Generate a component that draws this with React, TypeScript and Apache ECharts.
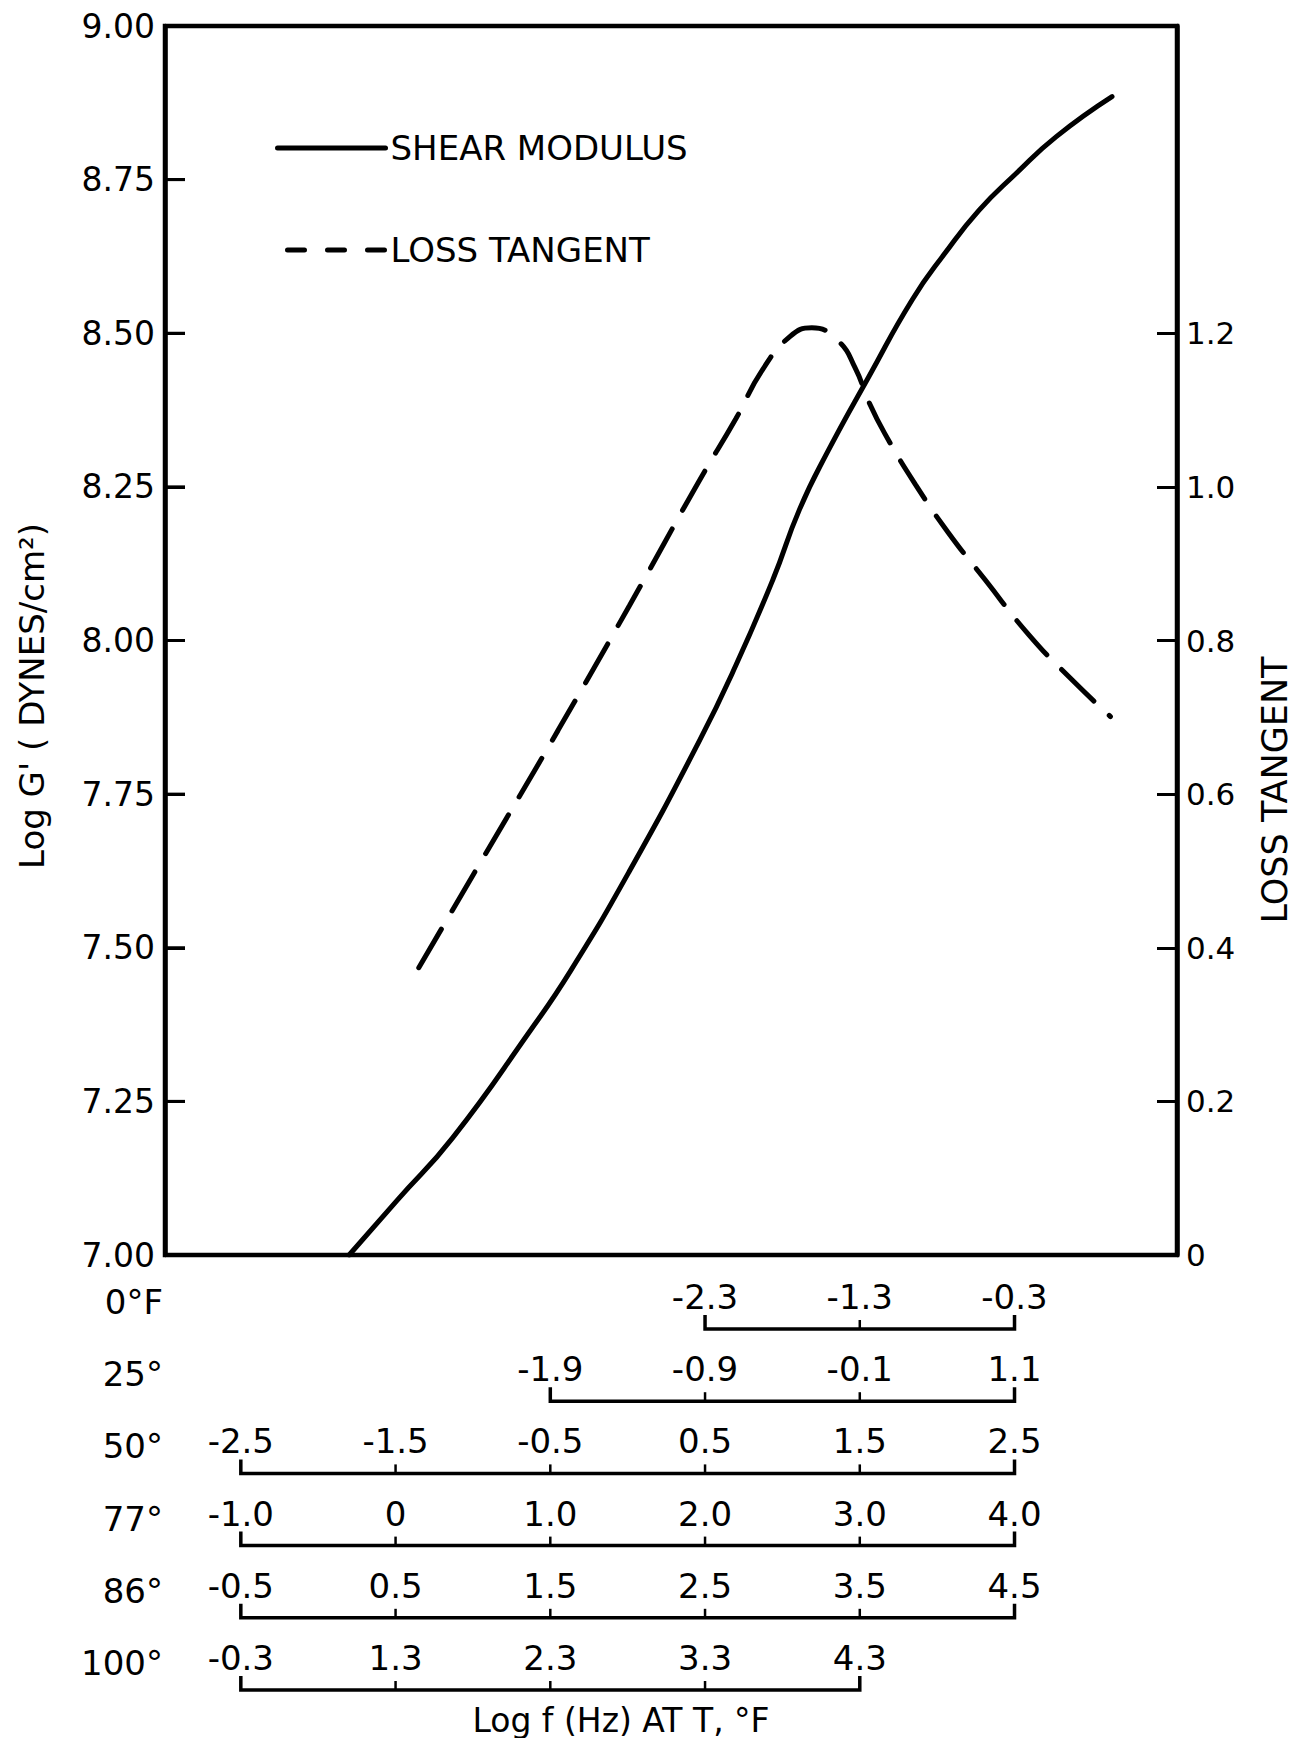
import React, { useEffect, useRef } from 'react';
import * as echarts from 'echarts';

// ---------- data ----------
// x = log f (Hz) at the 77°F reference scale
const shearLogF = [-0.30, 0.01, 0.37, 0.87, 1.13, 1.51, 1.96, 2.20, 2.44, 2.61, 2.79, 3.06, 3.34, 3.55, 3.77, 4.01, 4.27, 4.63];
const shearLogG = [7.00, 7.089, 7.191, 7.365, 7.462, 7.624, 7.835, 7.96, 8.10, 8.213, 8.306, 8.43, 8.555, 8.63, 8.70, 8.76, 8.82, 8.885];

const lossLogF = [0.15, 0.56, 1.05, 1.51, 1.96, 2.20, 2.37, 2.55, 2.69, 2.86, 2.97, 3.06, 3.16, 3.36, 3.57, 3.81, 4.09, 4.35, 4.62];
const lossTan = [0.374, 0.515, 0.683, 0.845, 1.007, 1.089, 1.152, 1.196, 1.207, 1.19, 1.155, 1.11, 1.07, 1.003, 0.941, 0.879, 0.808, 0.753, 0.701];

const gTicks = [7.0, 7.25, 7.5, 7.75, 8.0, 8.25, 8.5, 8.75, 9.0];
const gTickLabels = ['7.00', '7.25', '7.50', '7.75', '8.00', '8.25', '8.50', '8.75', '9.00'];
const lossTicks = [0, 0.2, 0.4, 0.6, 0.8, 1.0, 1.2];
const lossTickLabels = ['0', '0.2', '0.4', '0.6', '0.8', '1.0', '1.2'];

const tempLabels = ['0°F', '25°', '50°', '77°', '86°', '100°'];
// tick positions of each temperature scale, expressed on the 77°F log f axis
const scalePositions = [
  [2, 3, 4],
  [1, 2, 3, 4],
  [-1, 0, 1, 2, 3, 4],
  [-1, 0, 1, 2, 3, 4],
  [-1, 0, 1, 2, 3, 4],
  [-1, 0, 1, 2, 3],
];
const scaleTickLabels = [
  ['-2.3', '-1.3', '-0.3'],
  ['-1.9', '-0.9', '-0.1', '1.1'],
  ['-2.5', '-1.5', '-0.5', '0.5', '1.5', '2.5'],
  ['-1.0', '0', '1.0', '2.0', '3.0', '4.0'],
  ['-0.5', '0.5', '1.5', '2.5', '3.5', '4.5'],
  ['-0.3', '1.3', '2.3', '3.3', '4.3'],
];

const seriesNames = ['SHEAR MODULUS', 'LOSS TANGENT'];
const leftTitle = "Log G' ( DYNES/cm²)";
const rightTitle = 'LOSS TANGENT';
const bottomTitle = 'Log f (Hz) AT T, °F';

// ---------- layout / style ----------
const INK = '#000';
const FONT = '"DejaVu Sans", sans-serif';
const X_MIN = -1.49;
const X_MAX = 5.05;
const G_MIN = 7;
const G_MAX = 9;
const ROW_FIRST = 74;
const ROW_STEP = 72.2;
const END_TICK = 14;
const MID_TICK = 9;
const AXIS_TICK = 20;

const findLabel = (vals: number[], labels: string[], v: number) => {
  const k = vals.findIndex((t) => Math.abs(t - v) < 1e-6);
  return k >= 0 ? labels[k] : '';
};

function titleGraphics(): any[] {
  const textStyle = (text: string, fontSize: number) => ({
    text,
    fill: INK,
    fontSize,
    fontFamily: FONT,
    align: 'center',
    verticalAlign: 'middle',
    textAlign: 'center',
    textVerticalAlign: 'middle',
  });
  return [
    { type: 'text', id: 't-left', x: 24, y: 688, rotation: Math.PI / 2, style: textStyle(leftTitle, 34) },
    { type: 'text', id: 't-right', x: 1267, y: 782, rotation: Math.PI / 2, style: textStyle(rightTitle, 35) },
    { type: 'text', id: 't-bottom', x: 613, y: 1712, style: textStyle(bottomTitle, 33) },
  ];
}

function buildOption(): any {
  const legendBase = {
    left: 262,
    itemWidth: 108,
    itemHeight: 34,
    selectedMode: false,
    itemStyle: { opacity: 0, borderWidth: 0 },
    textStyle: { fontSize: 34, fontFamily: FONT, color: INK, lineHeight: 34 },
  };
  return {
    animation: false,
    backgroundColor: '#fff',
    textStyle: { fontFamily: FONT, color: INK },
    grid: {
      left: 157,
      right: 118,
      top: 18,
      height: 1229,
      show: true,
      borderColor: INK,
      borderWidth: 4.5,
      backgroundColor: 'rgba(0,0,0,0)',
      outerBoundsMode: 'none',
    },
    legend: [
      {
        ...legendBase,
        data: [seriesNames[0]],
        top: 118,
        lineStyle: { width: 5, cap: 'round', color: INK },
      },
      {
        ...legendBase,
        data: [seriesNames[1]],
        top: 220,
        lineStyle: { width: 5, cap: 'round', color: INK, type: [17, 23], dashOffset: 29.5 },
      },
    ],
    xAxis: [
      {
        type: 'value',
        min: X_MIN,
        max: X_MAX,
        show: true,
        axisLine: { show: false, onZero: false },
        axisTick: { show: false },
        axisLabel: { show: false },
        splitLine: { show: false },
      },
      {
        // helper axis whose zero sits on the grid's left edge (anchors the left y axis)
        type: 'value',
        min: 0,
        max: 1,
        show: true,
        axisLine: { show: false, onZero: false },
        axisTick: { show: false },
        axisLabel: { show: false },
        splitLine: { show: false },
      },
    ],
    yAxis: [
      {
        type: 'value',
        min: G_MIN,
        max: G_MAX,
        interval: 0.25,
        position: 'left',
        axisLine: { show: true, onZero: true, onZeroAxisIndex: 1, lineStyle: { color: INK, width: 4.5 } },
        axisTick: {
          show: true,
          inside: true,
          length: AXIS_TICK,
          lineStyle: { color: INK, width: 3 },
        },
        axisLabel: {
          margin: 10,
          fontSize: 33,
          fontFamily: FONT,
          color: INK,
          formatter: (v: number) => findLabel(gTicks, gTickLabels, v),
        },
        splitLine: { show: false },
      },
      {
        type: 'value',
        min: 0,
        max: 1.6,
        interval: 0.2,
        position: 'right',
        axisLine: { show: true, onZero: false, lineStyle: { color: INK, width: 4.5 } },
        axisTick: {
          show: true,
          inside: true,
          length: AXIS_TICK,
          customValues: lossTicks.slice(1),
          lineStyle: { color: INK, width: 3 },
        },
        axisLabel: {
          margin: 9,
          fontSize: 31,
          fontFamily: FONT,
          color: INK,
          customValues: lossTicks,
          formatter: (v: number) => findLabel(lossTicks, lossTickLabels, v),
        },
        splitLine: { show: false },
      },
    ],
    graphic: titleGraphics(),
    series: [
      {
        name: seriesNames[0],
        type: 'line',
        xAxisIndex: 0,
        yAxisIndex: 0,
        data: shearLogF.map((x, k) => [x, shearLogG[k]]),
        smooth: 0.5,
        symbol: 'none',
        lineStyle: { color: INK, width: 5, cap: 'round' },
        itemStyle: { color: INK },
      },
      {
        name: seriesNames[1],
        type: 'line',
        xAxisIndex: 0,
        yAxisIndex: 1,
        data: lossLogF.map((x, k) => [x, lossTan[k]]),
        smooth: 0.5,
        symbol: 'none',
        lineStyle: { color: INK, width: 5, type: [45, 21], cap: 'round' },
        itemStyle: { color: INK },
      },
      {
        // inward tick marks of the left (log G') axis, as small filled bars
        type: 'custom',
        xAxisIndex: 0,
        yAxisIndex: 0,
        clip: false,
        silent: true,
        zlevel: 1,
        z: 50,
        data: gTicks.slice(1, -1).map((g) => [X_MIN, g]),
        renderItem: (_params: any, api: any) => {
          const p = api.coord([api.value(0), api.value(1)]);
          return {
            type: 'rect',
            shape: { x: p[0], y: p[1] - 1.5, width: AXIS_TICK, height: 3 },
            style: { fill: INK },
          };
        },
      },
      {
        // bottom temperature scales
        type: 'custom',
        xAxisIndex: 0,
        yAxisIndex: 0,
        clip: false,
        silent: true,
        z: 10,
        data: tempLabels.map((_, i) => [i]),
        renderItem: (_params: any, api: any) => {
          const i = api.value(0) as number;
          const base = api.coord([X_MIN, G_MIN]);
          const yLine = base[1] + ROW_FIRST + i * ROW_STEP;
          const xs = scalePositions[i].map((p) => api.coord([p, G_MIN])[0]);
          const x0 = xs[0];
          const x1 = xs[xs.length - 1];
          const children: any[] = [
            {
              type: 'polyline',
              shape: {
                points: [
                  [x0, yLine - END_TICK],
                  [x0, yLine],
                  [x1, yLine],
                  [x1, yLine - END_TICK],
                ],
              },
              style: { stroke: INK, lineWidth: 3.5, fill: 'none' },
            },
          ];
          xs.slice(1, -1).forEach((x) => {
            children.push({
              type: 'line',
              shape: { x1: x, y1: yLine, x2: x, y2: yLine - MID_TICK },
              style: { stroke: INK, lineWidth: 2.5 },
            });
          });
          xs.forEach((x, k) => {
            children.push({
              type: 'text',
              x,
              y: yLine - 32,
              style: {
                text: scaleTickLabels[i][k],
                fill: INK,
                fontSize: 34,
                fontFamily: FONT,
                align: 'center',
                verticalAlign: 'middle',
              },
            });
          });
          children.push({
            type: 'text',
            x: base[0] - 2,
            y: yLine - 27,
            style: {
              text: tempLabels[i],
              fill: INK,
              fontSize: 34,
              fontFamily: FONT,
              align: 'right',
              verticalAlign: 'middle',
            },
          });
          return { type: 'group', children };
        },
      },
    ],
  };
}

export default function App() {
  const ref = useRef<HTMLDivElement>(null);
  useEffect(() => {
    if (!ref.current) return;
    const chart = echarts.init(ref.current, null, { renderer: 'svg' });
    chart.setOption(buildOption());
    return () => chart.dispose();
  }, []);
  return <div ref={ref} style={{ width: 1287, height: 1730, background: '#fff' }} />;
}
